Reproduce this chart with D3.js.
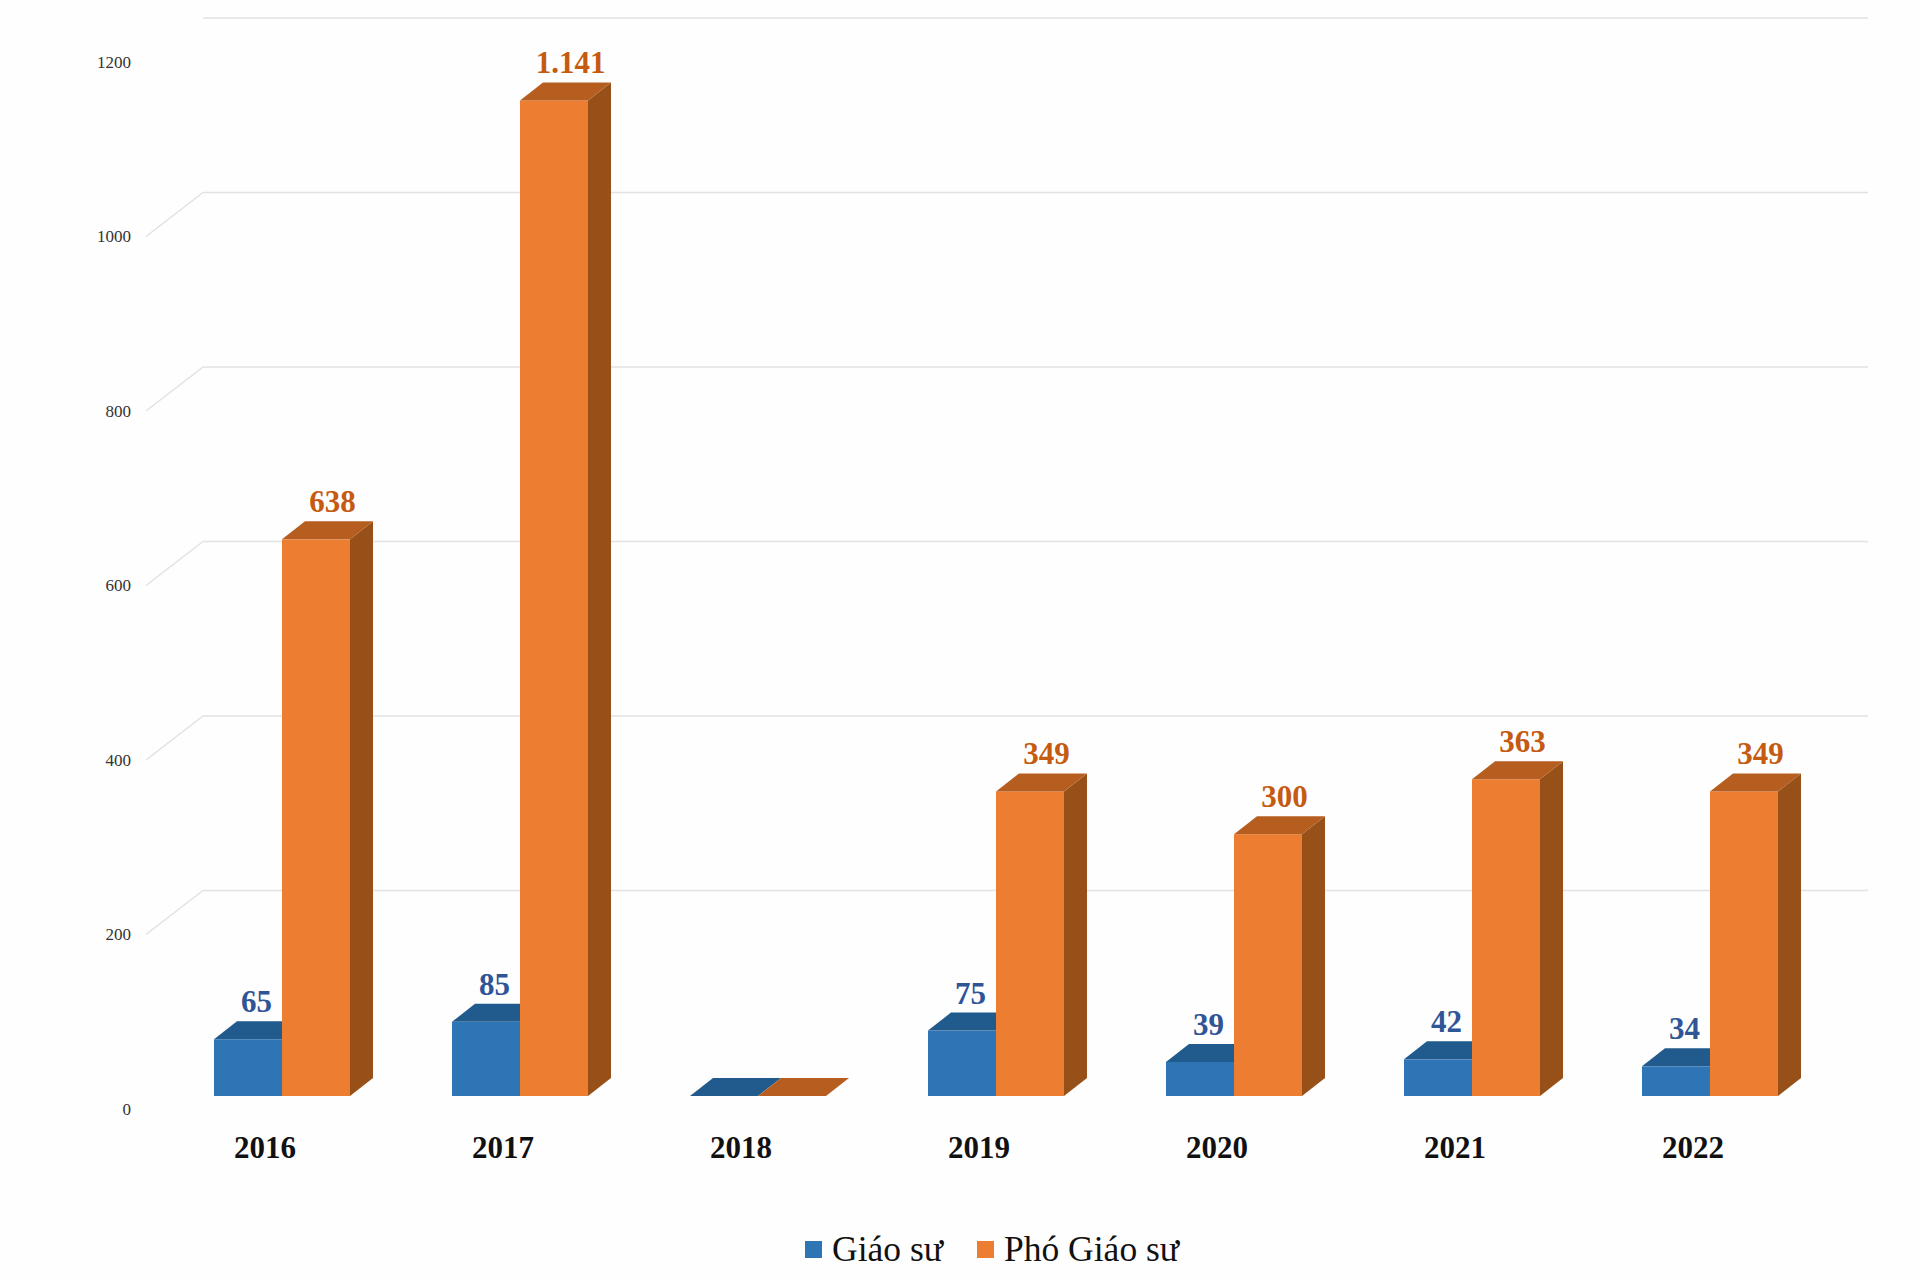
<!DOCTYPE html>
<html><head><meta charset="utf-8">
<script src="https://cdn.jsdelivr.net/npm/d3@7"></script>
<style>html,body{margin:0;padding:0;background:#fefefe;}svg{display:block;}</style>
</head><body>
<script>
const years = ["2016","2017","2018","2019","2020","2021","2022"];
const giaoSu = [65, 85, 0, 75, 39, 42, 34];
const phoGiaoSu = [638, 1141, 0, 349, 300, 363, 349];
const yTicks = [0, 200, 400, 600, 800, 1000, 1200];
const seriesNames = ["Giáo sư", "Phó Giáo sư"];

const W = 1920, H = 1280;
const svg = d3.select("body").append("svg").attr("width", W).attr("height", H);
svg.append("rect").attr("width", W).attr("height", H).attr("fill", "#fefefe");

const FONT = "'Liberation Serif','Times New Roman',serif";
const DX = 57, DY = 44;
const BOX = 17, BOY = 13, BDX = 23, BDY = 18;

const x = d3.scaleBand().domain(years).range([146, 1812]).paddingInner(0).paddingOuter(0);
const y = d3.scaleLinear().domain([0, 1200]).range([1109, 62]);

const grid = svg.append("g");
yTicks.forEach(t => {
  if (t === 0) return;
  const yy = y(t);
  if (t !== 1200) {
    grid.append("line").attr("x1", 146).attr("y1", yy).attr("x2", 146 + DX).attr("y2", yy - DY)
      .attr("stroke", "#e2e2e2").attr("stroke-width", 1.5);
  }
  grid.append("line").attr("x1", 146 + DX).attr("y1", yy - DY).attr("x2", 1868).attr("y2", yy - DY)
    .attr("stroke", "#e2e2e2").attr("stroke-width", 1.5);
});

const yAxis = d3.axisLeft(y).tickValues(yTicks).tickFormat(d3.format("d")).tickSize(0).tickPadding(0);
const ya = svg.append("g").attr("transform", "translate(131,0)").call(yAxis);
ya.select(".domain").remove();
ya.selectAll("text").attr("font-family", FONT).attr("font-size", 17).attr("fill", "#333");

const col = [
  {front: "#2E75B6", top: "#215A8C", side: "#1E4E7A", label: "#2F5597", dx: -5},
  {front: "#ED7D31", top: "#B65E20", side: "#985019", label: "#C55A11", dx: 3}
];
const barW = 68;

function bar3d(g, x0, v, c) {
  const yb = y(0) - BOY;
  const yt = y(v) - BOY;
  const x1 = x0 + barW;
  g.append("path").attr("d", `M${x1},${yb}L${x1 + BDX},${yb - BDY}L${x1 + BDX},${yt - BDY}L${x1},${yt}Z`)
    .attr("fill", c.side);
  if (v > 0) g.append("rect").attr("x", x0).attr("y", yt).attr("width", barW).attr("height", yb - yt).attr("fill", c.front);
  g.append("path").attr("d", `M${x0},${yt}L${x0 + BDX},${yt - BDY}L${x1 + BDX},${yt - BDY}L${x1},${yt}Z`)
    .attr("fill", c.top);
}

const fmt = v => d3.format(",")(v).replace(/,/g, ".");

const bars = svg.append("g");
years.forEach((yr, i) => {
  const gx = x(yr) + x.bandwidth() / 2 + BOX;
  const g = bars.append("g");
  const vals = [giaoSu[i], phoGiaoSu[i]];
  vals.forEach((v, s) => {
    const x0 = gx - barW + s * barW;
    bar3d(g, x0, v, col[s]);
  });
  vals.forEach((v, s) => {
    if (v === 0) return;
    const x0 = gx - barW + s * barW;
    g.append("text").attr("x", x0 + barW / 2 + BDX / 2 + 2 + col[s].dx).attr("y", y(v) - BOY - BDY - 9)
      .attr("text-anchor", "middle").attr("font-family", FONT).attr("font-weight", "bold")
      .attr("font-size", 31).attr("fill", col[s].label).text(fmt(v));
  });
});

const xAxis = d3.axisBottom(x).tickSize(0).tickPadding(0);
const xa = svg.append("g").attr("transform", "translate(0,1158)").call(xAxis);
xa.select(".domain").remove();
xa.selectAll("text").attr("font-family", FONT).attr("font-weight", "bold").attr("font-size", 31)
  .attr("fill", "#111").attr("dy", "0").attr("y", 0);

const leg = svg.append("g");
const legX = [805, 977];
seriesNames.forEach((n, s) => {
  leg.append("rect").attr("x", legX[s]).attr("y", 1241).attr("width", 17).attr("height", 17).attr("fill", col[s].front);
  leg.append("text").attr("x", legX[s] + 27).attr("y", 1261).attr("font-family", FONT).attr("font-size", 35.5)
    .attr("fill", "#111").text(n);
});
</script>
</body></html>
